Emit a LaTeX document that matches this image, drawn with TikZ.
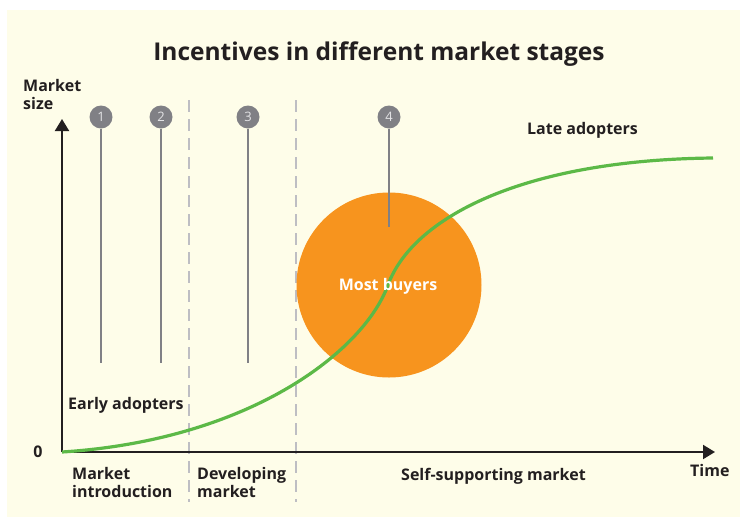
\documentclass[tikz,border=0pt]{standalone}
\usepackage{fontspec}
\setmainfont{Open Sans}
\usepackage{tikz}
\usetikzlibrary{positioning}
\usetikzlibrary{arrows.meta}

\definecolor{cream}{HTML}{FEFDE9}
\definecolor{ink}{HTML}{231F20}
\definecolor{growth}{HTML}{5CB947}
\definecolor{buyer}{HTML}{F7941E}
\definecolor{pingray}{HTML}{808085}
\definecolor{pintext}{HTML}{E4E4E6}
\definecolor{dashgray}{HTML}{BEBEC3}

\begin{document}
\begin{tikzpicture}[x=1pt,y=-1pt,every node/.style={inner sep=0pt},
    lbl/.style={font=\bfseries\fontsize{16}{18}\selectfont,text=ink,align=left,anchor=base west},
    pinhead/.style={circle,fill=pingray,minimum size=23pt,text=pintext,font=\fontsize{13}{13}\selectfont},
    pinline/.style={draw=pingray,line width=1.6pt},
    divider/.style={draw=dashgray,line width=1.5pt,dash pattern=on 12pt off 7pt},
    axis/.style={draw=ink,line width=2pt,-{Triangle[length=12pt,width=14pt]}}]
    \useasboundingbox (0,0) rectangle (740,523);
    \fill[cream] (7,10) rectangle (740,517);

    \node (title)[font=\bfseries\fontsize{24.5}{28}\selectfont,text=ink,anchor=base] at (379,60) {Incentives in different market stages};

    % stage borders
    \coordinate (div1top) at (189,100);
    \coordinate (div1bot) at (189,502);
    \coordinate (div2top) at (296,100);
    \coordinate (div2bot) at (296,502);
    \path [divider] (div1top) -- (div1bot);
    \path [divider] (div2top) -- (div2bot);

    \node (buyers)[circle,fill=buyer,minimum size=185pt] at (389,285) {};

    % axes
    \coordinate (origin) at (62,452);
    \coordinate (ytip) at (62,119);
    \coordinate (xtip) at (715,452);
    \path [axis] (origin) -- (ytip);
    \path [axis] (origin) -- (xtip);

    % growth curve
    \coordinate (turn) at (388,285);
    \coordinate (late end) at (713,158);
    \draw [growth,line width=3.2pt] (origin) .. controls (250,440) and (364,351) .. (turn)
        .. controls (412,219) and (520,160) .. (late end);

    % numbered pins
    \node (pin1)[pinhead] at (101,117) {1};
    \node (pin2)[pinhead] at (161,117) {2};
    \node (pin3)[pinhead] at (248,117) {3};
    \node (pin4)[pinhead] at (389,117) {4};
    \coordinate (foot1) at (101,363);
    \coordinate (foot2) at (161,363);
    \coordinate (foot3) at (248,363);
    \coordinate (foot4) at (389,227);
    \path [pinline] (pin1) -- (foot1);
    \path [pinline] (pin2) -- (foot2);
    \path [pinline] (pin3) -- (foot3);
    \path [pinline] (pin4) -- (foot4);

    \node (most)[lbl,anchor=base,text=white] at (388,290) {Most buyers};
    \node (size)[lbl] at (23,109) {Market\\size};
    \node (zero)[lbl,anchor=center] at (38,452) {0};
    \node (early)[lbl] at (68,409) {Early adopters};
    \node (late)[lbl] at (527,134) {Late adopters};
    \node (intro)[lbl] at (72,497) {Market\\introduction};
    \node (developing)[lbl] at (197,497) {Developing\\market};
    \node (self)[lbl] at (401,480) {Self-supporting market};
    \node (time)[lbl] at (690,476) {Time};
\end{tikzpicture}
\end{document}
